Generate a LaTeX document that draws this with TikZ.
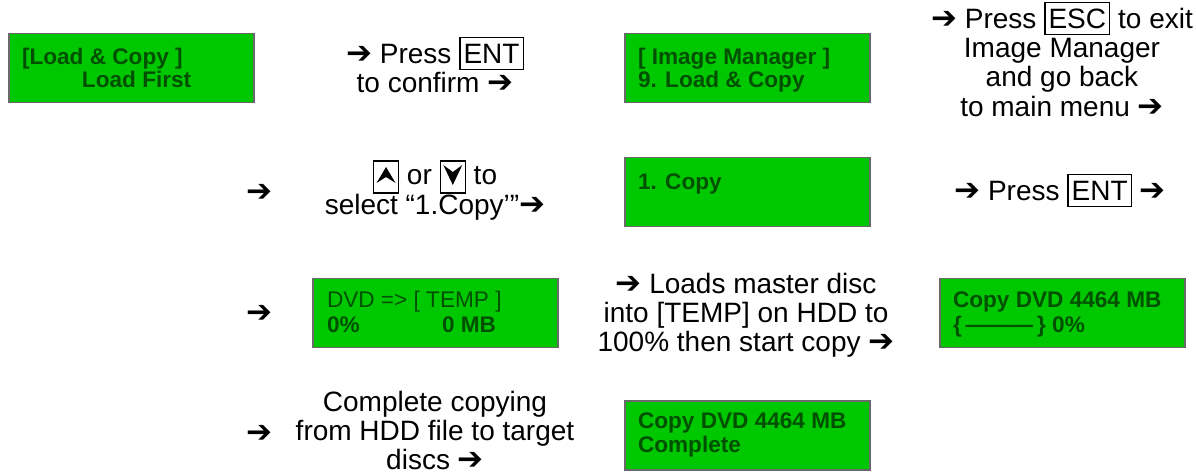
\documentclass[tikz,border=0pt]{standalone}
\usepackage{fontspec}
\setmainfont{Liberation Sans}
\newfontfamily\symfont{DejaVu Sans}
\definecolor{lcdgreen}{RGB}{0,200,0}
\definecolor{lcdtext}{RGB}{0,80,0}
\definecolor{lcdedge}{RGB}{105,105,105}
\newcommand\ar{{\symfont\fontsize{15.5pt}{15pt}\selectfont\char"2794}}
\newcommand\tstrut{\rule{0pt}{13pt}}
\newcommand\keyb[1]{{\setlength\fboxsep{0pt}\setlength\fboxrule{0.65pt}\fbox{\rule[-3pt]{0pt}{15.4pt}\kern1.5pt#1\kern1.5pt}}}
\newcommand\upkey{\tikz[baseline=0pt]{\draw[line width=0.65pt] (0pt,-4pt) rectangle (12.5pt,12pt);
  \fill (6.25pt,9pt) -- (11pt,1pt) -- (6.25pt,4pt) -- (1.5pt,1pt) -- cycle;}}
\newcommand\downkey{\tikz[baseline=0pt]{\draw[line width=0.65pt] (0pt,-4pt) rectangle (12.5pt,12pt);
  \fill (6.25pt,0pt) -- (11pt,10pt) -- (6.25pt,6.5pt) -- (1.5pt,10pt) -- cycle;}}
\begin{document}
\begin{tikzpicture}[x=0.5pt,y=-0.5pt,
  every node/.style={inner sep=0pt,outer sep=0pt},
  lcd/.style={draw=lcdedge,line width=0.8pt,fill=lcdgreen,minimum width=122.5pt,minimum height=34.5pt},
  lcdline/.style={anchor=base west,text=lcdtext,font=\fontsize{11.3pt}{12pt}\selectfont\bfseries},
  lcdthin/.style={anchor=base west,text=lcdtext,font=\fontsize{11.3pt}{12pt}\selectfont},
  note/.style={anchor=north,align=center,font=\fontsize{14pt}{14.7pt}\selectfont},
  arrowmark/.style={anchor=base,font=\fontsize{14pt}{15pt}\selectfont}]
\useasboundingbox (0,0) rectangle (1196,476);

% Row 1
\node[lcd] (b1) at (131.5,68) {};
\node[lcdline] (b1a) at (22,65) {[Load \& Copy ]};
\node[lcdline] (b1b) at (82,88) {Load First};
\node[note] (t1) at (435,37) {\tstrut\ar{} Press \keyb{ENT}\\to confirm \ar};
\node[lcd] (b2) at (747.5,68) {};
\node[lcdline] (b2a) at (638,65) {[ Image Manager ]};
\node[lcdline] (b2b) at (638,88) {9. Load \& Copy};
\node[note] (t2) at (1062,2) {\tstrut\ar{} Press \keyb{ESC} to exit\\Image Manager\\and go back\\to main menu \ar};

% Row 2
\node[arrowmark] (a2) at (259,202) {\ar};
\node[note] (t3) at (435,159) {\tstrut\upkey{} or \downkey{} to\\select “1.Copy’”\ar};
\node[lcd] (b3) at (747.5,192) {};
\node[lcdline] (b3a) at (638,190) {1. Copy};
\node[note] (t4) at (1060,174) {\tstrut\ar{} Press \keyb{ENT} \ar};

% Row 3
\node[arrowmark] (a3) at (259,322) {\ar};
\node[lcd] (b4) at (435.5,313) {};
\node[lcdthin] (b4a) at (327,307) {DVD => [ TEMP ]};
\node[lcdline] (b4b) at (327,332) {0\%};
\node[lcdline] (b4c) at (442,332) {0 MB};
\node[note] (t5) at (746,267) {\tstrut\ar{} Loads master disc\\into [TEMP] on HDD to\\100\% then start copy \ar};
\node[lcd] (b5) at (1062.5,313) {};
\node[lcdline] (b5a) at (953,307) {Copy DVD 4464 MB};
\node[lcdline] (b5b) at (953,332) {\{\,———\,\} 0\%};

% Row 4
\node[arrowmark] (a4) at (259,442) {\ar};
\node[note] (t6) at (435,385) {\tstrut Complete copying\\from HDD file to target\\discs \ar};
\node[lcd] (b6) at (747.5,435.5) {};
\node[lcdline] (b6a) at (638,429) {Copy DVD 4464 MB};
\node[lcdline] (b6b) at (638,452) {Complete};
\end{tikzpicture}
\end{document}
